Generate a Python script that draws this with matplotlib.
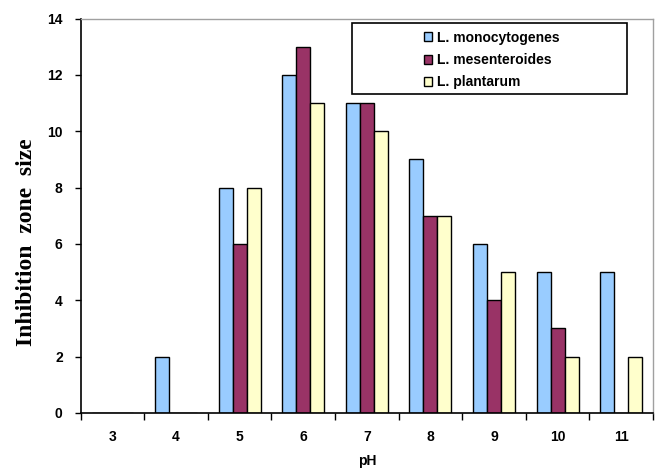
import numpy as np
import matplotlib
matplotlib.use("Agg")
import matplotlib.pyplot as plt
from matplotlib.patches import Rectangle, Patch

# data
ph = ["3", "4", "5", "6", "7", "8", "9", "10", "11"]
monocytogenes = [0, 2, 8, 12, 11, 9, 6, 5, 5]
mesenteroides = [0, 0, 6, 13, 11, 7, 4, 3, 0]
plantarum = [0, 0, 8, 11, 10, 7, 5, 2, 2]
series_names = ["L. monocytogenes", "L. mesenteroides", "L. plantarum"]
colors = ["#99CCFF", "#993366", "#FFFFCC"]

plt.rcParams['font.family'] = ['Liberation Sans', 'DejaVu Sans']

W, H = 655, 472
fig = plt.figure(figsize=(W / 100, H / 100), dpi=100)
ax = fig.add_axes([80.7 / W, 59 / H, (653 - 80.7) / W, (413 - 18.5) / H])

x = np.arange(len(ph))
bw = 0.22
for k, (vals, c) in enumerate(zip([monocytogenes, mesenteroides, plantarum], colors)):
    ax.bar(x + (k - 1) * bw, vals, width=bw, color=c, edgecolor="black",
           linewidth=1.0, zorder=2)

ax.set_xlim(-0.5, len(ph) - 0.5)
ax.set_ylim(0, 14)
ax.set_yticks(range(0, 15, 2))
ax.set_yticklabels([str(v) for v in range(0, 15, 2)], fontsize=10, fontweight="bold")

# category labels centred, tick marks between categories
ax.set_xticks(x)
ax.set_xticklabels(ph, fontsize=10, fontweight="bold")
ax.tick_params(axis="x", which="major", length=0, pad=12)
ax.set_xticks(np.arange(-0.5, len(ph), 1.0), minor=True)
ax.tick_params(axis="x", which="minor", length=5, width=1.0, direction="out")
ax.tick_params(axis="y", length=4, width=1.0, direction="out", pad=9)

for s in ["left", "bottom"]:
    ax.spines[s].set_color("black")
    ax.spines[s].set_linewidth(1.2)
for s in ["top", "right"]:
    ax.spines[s].set_color("#A0A0A0")
    ax.spines[s].set_linewidth(1.0)

fig.text(367 / W, 1 - 461 / H, "pH", fontsize=10, fontweight="bold",
         ha="center", va="center")
fig.text(27 / W, 1 - 242 / H, "Inhibition  zone  size", rotation=90,
         family=["Liberation Serif", "DejaVu Serif"], fontweight="bold",
         fontsize=17, ha="center", va="center")

# legend: black box with entries pushed to the right
fig.patches.append(Rectangle((352 / W, 1 - 94 / H), (627 - 352) / W, (94 - 23) / H,
                             transform=fig.transFigure, facecolor="white",
                             edgecolor="black", linewidth=1.2, zorder=5))
handles = [Patch(facecolor=c, edgecolor="black", linewidth=1.0) for c in colors]
leg = fig.legend(handles, series_names, loc="upper left",
                 bbox_to_anchor=(414 / W, 1 - 21 / H), frameon=False,
                 prop={"weight": "bold", "size": 10}, handlelength=0.6,
                 handleheight=0.6, handletextpad=0.35, labelspacing=0.6,
                 borderpad=0.2)
leg.set_zorder(6)

fig.savefig("out.png", dpi=100)
